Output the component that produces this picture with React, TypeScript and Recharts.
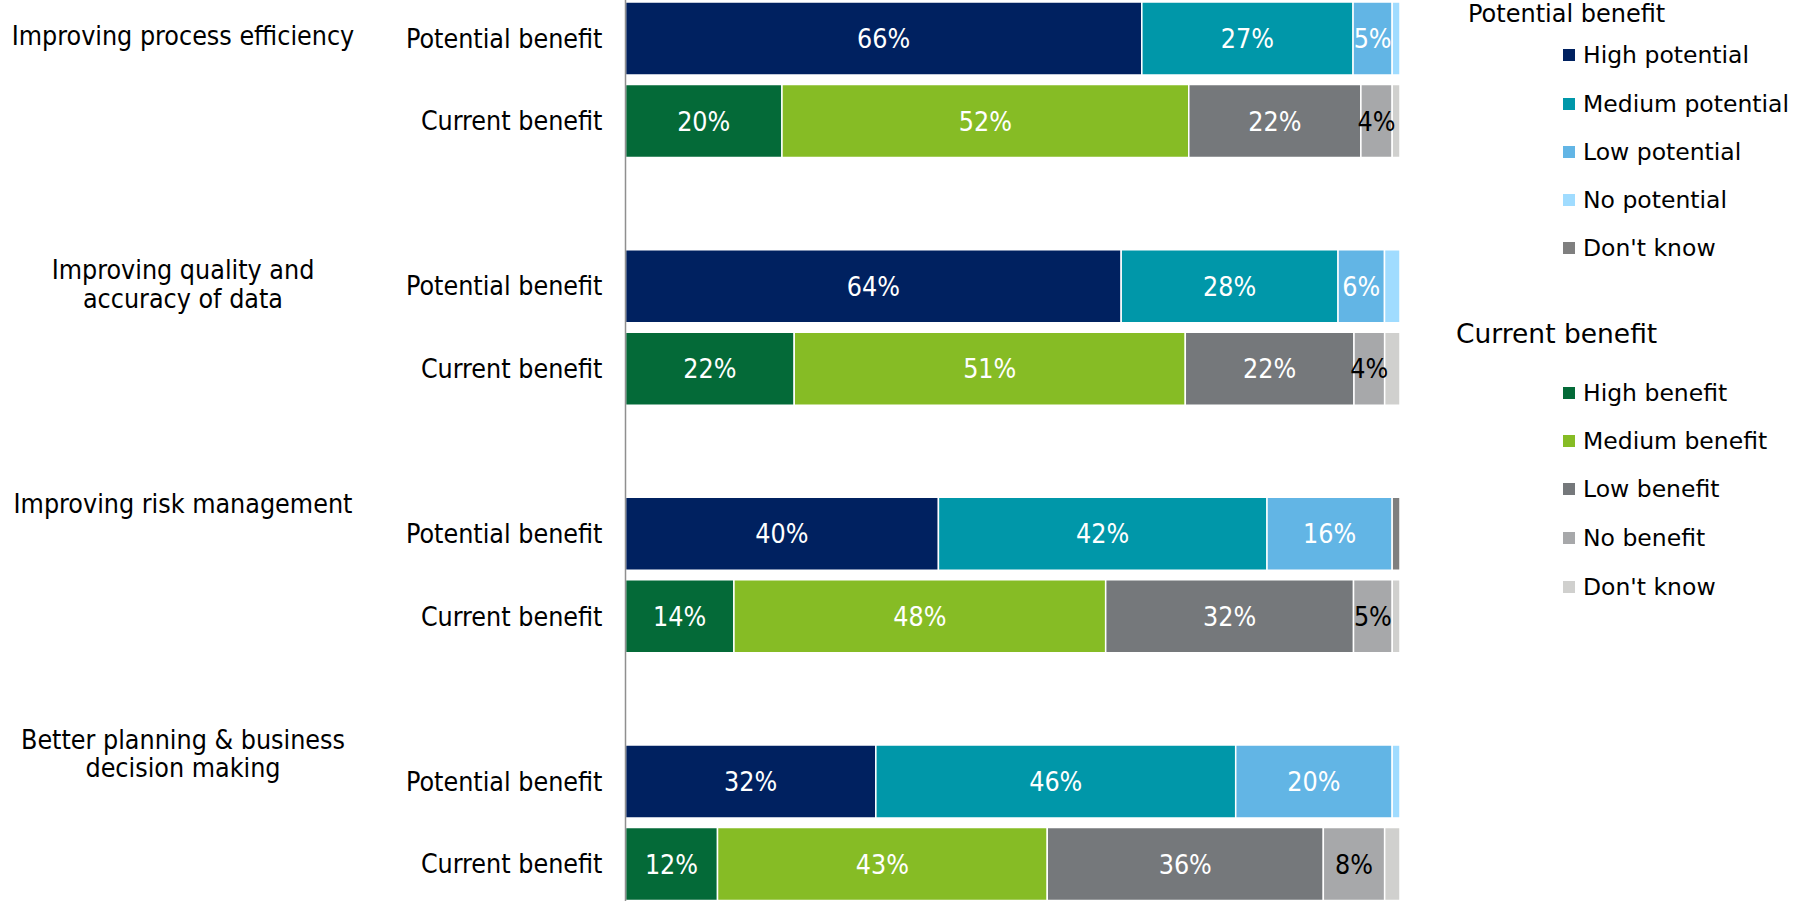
import React from 'react';
import { BarChart, Bar, XAxis, YAxis, LabelList } from 'recharts';

// ---- Data ----
const GROUPS = [
  ['Improving process efficiency'],
  ['Improving quality and', 'accuracy of data'],
  ['Improving risk management'],
  ['Better planning & business', 'decision making'],
];
const ROW_LABELS = ['Potential benefit', 'Current benefit'];

// Potential benefit series (per group)
const highPotential = [66, 64, 40, 32];
const mediumPotential = [27, 28, 42, 46];
const lowPotential = [5, 6, 16, 20];
const noPotential = [1, 2, 0, 1];
const dontKnowPotential = [0, 0, 1, 0];

// Current benefit series (per group)
const highBenefit = [20, 22, 14, 12];
const mediumBenefit = [52, 51, 48, 43];
const lowBenefit = [22, 22, 32, 36];
const noBenefit = [4, 4, 5, 8];
const dontKnowBenefit = [1, 2, 1, 2];

const POTENTIAL_NAMES = ['High potential', 'Medium potential', 'Low potential', 'No potential', "Don't know"];
const CURRENT_NAMES = ['High benefit', 'Medium benefit', 'Low benefit', 'No benefit', "Don't know"];

// ---- Styles ----
const POTENTIAL_COLORS = ['#002160', '#0097A9', '#62B5E5', '#A0DCFF', '#7F7F7F'];
const CURRENT_COLORS = ['#046A38', '#86BC25', '#75787B', '#A7A8AA', '#D0D0CE'];
const LABEL_COLORS_P = ['#fff', '#fff', '#fff', '#000', '#fff'];
const LABEL_COLORS_C = ['#fff', '#fff', '#fff', '#000', '#000'];
const GROUP_LABEL_SHIFT = [-3, -2, -30, -28];
const GROUP_LABEL_X = 183;
const TEXT_SIZE = 26.6;
const TICK_FONT = '"DejaVu Sans Condensed", "DejaVu Sans", sans-serif';
const LEGEND_FONT = '"DejaVu Sans", Verdana, sans-serif';

const P_KEYS = ['hp', 'mp', 'lp', 'np', 'dkp'];
const C_KEYS = ['hb', 'mb', 'lb', 'nb', 'dkb'];
const P_SERIES = [highPotential, mediumPotential, lowPotential, noPotential, dontKnowPotential];
const C_SERIES = [highBenefit, mediumBenefit, lowBenefit, noBenefit, dontKnowBenefit];

type Row = { [k: string]: any };
const data: Row[] = [];
GROUPS.forEach((_, g) => {
  const p: Row = { row: `p${g}`, kind: ROW_LABELS[0], group: g };
  const c: Row = { row: `c${g}`, kind: ROW_LABELS[1], group: g };
  P_KEYS.forEach((k, i) => { p[k] = P_SERIES[i][g]; c[k] = 0; });
  C_KEYS.forEach((k, i) => { c[k] = C_SERIES[i][g]; p[k] = 0; });
  data.push(p, c);
  if (g < GROUPS.length - 1) {
    const s: Row = { row: `s${g}`, kind: '', group: g };
    P_KEYS.forEach((k) => (s[k] = 0));
    C_KEYS.forEach((k) => (s[k] = 0));
    data.push(s);
  }
});
const rowById: Record<string, Row> = {};
data.forEach((r) => (rowById[r.row] = r));

const YTick = (props: any) => {
  const { x, y, payload } = props;
  const r = rowById[payload.value];
  if (!r || !r.kind) return null;
  const lines = GROUPS[r.group];
  const lh = 28.5;
  return (
    <g>
      <text x={x} y={y} dy="0.36em" textAnchor="end" fill="#000" fontFamily={TICK_FONT} fontSize={TEXT_SIZE}>
        {r.kind}
      </text>
      {r.kind === ROW_LABELS[0] &&
        lines.map((ln, i) => (
          <text
            key={i}
            x={GROUP_LABEL_X}
            y={y + GROUP_LABEL_SHIFT[r.group] + (i - (lines.length - 1) / 2) * lh}
            dy="0.36em"
            textAnchor="middle"
            fill="#000"
            fontFamily={TICK_FONT}
            fontSize={TEXT_SIZE}
          >
            {ln}
          </text>
        ))}
    </g>
  );
};

const makeLabel = (color: string) => (props: any) => {
  const { x, y, width, height, value } = props;
  if (value == null || value < 3) return null;
  return (
    <text
      x={x + width / 2}
      y={y + height / 2}
      dy="0.36em"
      textAnchor="middle"
      fill={color}
      fontFamily={TICK_FONT}
      fontSize={TEXT_SIZE}
    >
      {`${value}%`}
    </text>
  );
};

const LegendBlock = ({ title, titleSize, titleLeft, titleY, names, colors, ys }: any) => (
  <>
    <div
      style={{
        position: 'absolute', left: titleLeft, top: titleY - 20, height: 40, lineHeight: '40px',
        fontFamily: LEGEND_FONT, fontSize: titleSize, color: '#000', whiteSpace: 'nowrap',
      }}
    >
      {title}
    </div>
    {names.map((n: string, i: number) => (
      <div
        key={n + i}
        style={{
          position: 'absolute', left: 1563, top: ys[i] - 20, height: 40, display: 'flex', alignItems: 'center',
          fontFamily: LEGEND_FONT, fontSize: 23.5, color: '#000', whiteSpace: 'nowrap',
        }}
      >
        <span style={{ display: 'inline-block', width: 12, height: 12, background: colors[i], marginRight: 8 }} />
        <span>{n}</span>
      </div>
    ))}
  </>
);

export default function App() {
  return (
    <div style={{ position: 'absolute', left: 0, top: 0, width: 1793, height: 901, overflow: 'hidden', background: '#fff' }}>
      <div style={{ position: 'absolute', left: 0, top: -3 }}>
        <BarChart
          width={1793}
          height={908}
          data={data}
          layout="vertical"
          stackOffset="expand"
          barSize={73}
          margin={{ top: 0, right: 393, bottom: 0, left: 0 }}
        >
          <XAxis type="number" hide domain={[0, 1]} />
          <YAxis
            type="category"
            dataKey="row"
            width={625.5}
            axisLine={{ stroke: '#8f8f8f', strokeWidth: 1.5 }}
            tickLine={false}
            tickSize={0}
            tickMargin={23}
            interval={0}
            tick={<YTick />}
          />
          {P_KEYS.map((k, i) => (
            <Bar key={k} dataKey={k} stackId="s" fill={POTENTIAL_COLORS[i]} stroke="#fff" strokeWidth={1.5} isAnimationActive={false}>
              <LabelList dataKey={k} content={makeLabel(LABEL_COLORS_P[i])} />
            </Bar>
          ))}
          {C_KEYS.map((k, i) => (
            <Bar key={k} dataKey={k} stackId="s" fill={CURRENT_COLORS[i]} stroke="#fff" strokeWidth={1.5} isAnimationActive={false}>
              <LabelList dataKey={k} content={makeLabel(LABEL_COLORS_C[i])} />
            </Bar>
          ))}
        </BarChart>
      </div>
      <LegendBlock
        title="Potential benefit"
        titleSize={24}
        titleLeft={1468}
        titleY={14}
        names={POTENTIAL_NAMES}
        colors={POTENTIAL_COLORS}
        ys={[55, 104, 152, 200, 248]}
      />
      <LegendBlock
        title="Current benefit"
        titleSize={26.5}
        titleLeft={1456}
        titleY={334}
        names={CURRENT_NAMES}
        colors={CURRENT_COLORS}
        ys={[393, 441, 489, 538, 587]}
      />
    </div>
  );
}
